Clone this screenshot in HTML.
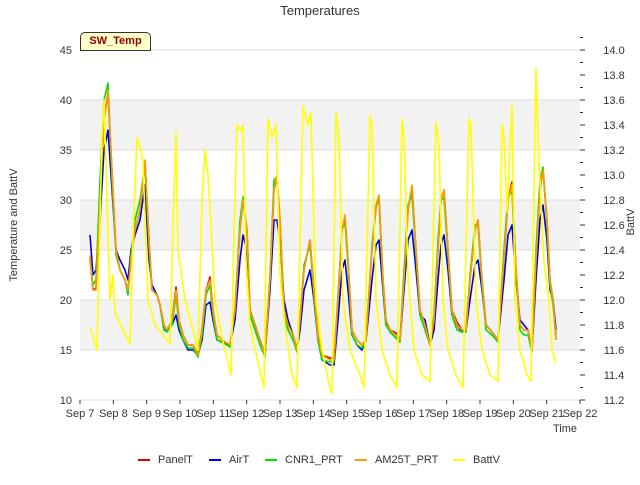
<!DOCTYPE html>
<html><head><meta charset="utf-8"><style>
body{margin:0;background:#fff;font-family:"Liberation Sans",sans-serif}
svg text{font-family:"Liberation Sans",sans-serif}
</style></head><body>
<svg id="c" width="640" height="480" xmlns="http://www.w3.org/2000/svg"></svg>
<script>
const times=[0.30,0.39,0.48,0.60,0.72,0.84,0.96,1.08,1.20,1.35,1.44,1.53,1.65,1.80,1.95,2.07,2.16,2.31,2.40,2.52,2.61,2.76,2.88,2.97,3.09,3.24,3.39,3.54,3.66,3.78,3.90,3.99,4.11,4.26,4.50,4.65,4.80,4.89,5.01,5.10,5.25,5.40,5.55,5.70,5.82,5.91,6.00,6.12,6.24,6.39,6.51,6.60,6.72,6.90,7.02,7.14,7.26,7.50,7.62,7.74,7.86,7.95,8.04,8.16,8.31,8.46,8.58,8.76,8.88,8.97,9.09,9.18,9.30,9.48,9.60,9.72,9.84,9.96,10.08,10.20,10.35,10.50,10.62,10.74,10.83,10.92,11.04,11.16,11.31,11.46,11.58,11.70,11.85,11.94,12.06,12.18,12.36,12.54,12.72,12.84,12.96,13.08,13.20,13.32,13.44,13.56,13.68,13.80,13.89,14.01,14.10,14.19,14.28];
const am25t=[24.5,21,21,30,38,41,33,25,23,22,21,24,27,29,34,26,21,20.5,19.5,17.5,17,18,21,18,16.5,15.5,15.5,14.5,17,21,22,19,16.5,16,15.5,19,27,30,27,19,17.5,16,14.5,22,31,32.5,28,19,17.5,16.5,15,18,23,26,21,16.5,14.5,14,14,20,27,28.5,24,17,16,15.5,16,25,29.5,30.5,22,18,17,16.5,16,22,29,31.5,25,19,17.5,15.5,18,25,30,31,25,19,17.5,17,17,22,27,28,22,17.5,16.8,16,24,30,31.5,23,17.5,17,17,15,24,31,33,28,22,20,16];
const panelT=[24.3,21,21.2,30,38,40.8,32.8,25,23,22,21,24,27,29,33.8,26,21,20.5,19.5,17.5,17,18,21.3,18,16.5,15.5,15.5,14.6,17,21,22.3,19,16.5,16,15.5,19,27,30,27,19,17.5,16,14.6,22,31,32.3,28,19,17.5,16.5,15,18,23,26,21,16.5,14.5,14.2,14.2,20,27,28.3,24,17,16,15.5,16,25,29.3,30.3,22,18,17,16.7,16,22,29,31.3,25,19,17.5,15.5,18,25,30,31,25,19,17.8,17,17,22,27,28,22,17.5,16.8,16,24,30,31.8,23,17.5,17,17,15,24,31,33,28,22,20,16];
const airT=[26.5,22.5,23,28,35,37,31,25,24,23,22,25,26.5,28,31.5,24,21.5,20.5,19.5,17,17,17.5,18.5,17,16,15,15,14.5,16,19.5,19.8,18,16,15.8,15.5,18,24,26.5,25,19,17.5,16,14.5,21,28,28,26,20,18,16.5,15,17,21,23,20,16,14,13.5,13.5,18,23,24,21,16.5,15.5,15,16,22,25.5,26,21,17.5,17,16.5,16,21,26,27,23,18.5,18,15.5,17,22,25.5,26.5,23,18.5,17.5,16.8,17,20,23.5,24,21,17.5,16.8,16,22,26.5,27.5,22,18,17.5,17,15,22,28,29.5,26,21,20,17];
const cnr1=[24,21.5,22,32,40,41.7,32,24.5,23,22,20.5,24.5,28,30,33.5,25.5,21,20.5,19.5,17,16.8,17.5,20.5,17.5,16,15.2,15.2,14.3,16.5,20.5,21.5,18.5,16,15.8,15.3,19,28,30.3,26.5,18.5,17,15.5,14.3,22.5,32,32.3,27,18.5,17,16,14.8,18,23.5,25.5,20.5,16,14,13.8,13.8,20.5,27,27.8,23.5,16.5,15.5,15.2,16,25.5,29.5,30,21.5,17.5,16.8,16.2,15.8,23,29.5,30.5,24.5,18.5,17,15.5,18.5,26,30,30.2,24.5,18.5,17,16.8,16.8,22.5,27.5,27.5,21.5,17,16.5,15.8,25,30.5,30.8,22.5,17,16.5,16.5,14.8,25,32,33.3,27.5,21.5,19.5,16.5];
const battTimes=[0.30,0.51,0.66,0.72,0.81,0.90,0.99,1.05,1.26,1.50,1.59,1.71,1.83,1.89,2.04,2.25,2.55,2.70,2.79,2.88,2.94,3.15,3.45,3.54,3.66,3.75,3.84,3.93,4.05,4.26,4.44,4.53,4.62,4.71,4.83,4.89,4.98,5.10,5.34,5.52,5.64,5.76,5.88,6.00,6.15,6.36,6.51,6.69,6.84,6.93,7.08,7.26,7.50,7.56,7.68,7.77,7.89,8.10,8.40,8.52,8.70,8.76,8.88,9.06,9.30,9.51,9.66,9.72,9.84,10.02,10.26,10.50,10.68,10.77,10.89,11.04,11.28,11.49,11.67,11.73,11.88,12.06,12.30,12.54,12.66,12.72,12.81,12.96,13.05,13.20,13.41,13.53,13.68,13.77,13.92,14.07,14.16,14.28];
const battV=[11.78,11.6,13.3,13.6,12.8,12.0,12.2,11.9,11.78,11.65,12.5,13.3,13.2,13.1,12.0,11.8,11.7,11.65,12.6,13.35,12.4,12.0,11.7,11.6,12.8,13.2,13.0,12.6,12.0,11.7,11.5,11.4,12.5,13.4,13.35,13.4,12.3,11.8,11.5,11.3,13.45,13.3,13.4,12.2,11.8,11.4,11.3,13.55,13.4,13.5,12.0,11.6,11.3,11.25,13.5,13.3,12.0,11.6,11.4,11.3,13.48,13.4,12.0,11.6,11.4,11.3,13.45,13.3,12.2,11.6,11.4,11.35,13.42,13.25,12.0,11.6,11.4,11.3,13.45,13.4,12.0,11.6,11.4,11.35,13.4,13.3,12.7,13.56,12.0,11.6,11.4,11.35,13.85,13.1,12.3,12.0,11.6,11.5];
const xLabels=["Sep 7","Sep 8","Sep 9","Sep 10","Sep 11","Sep 12","Sep 13","Sep 14","Sep 15","Sep 16","Sep 17","Sep 18","Sep 19","Sep 20","Sep 21","Sep 22"];
const yTicks=[10,15,20,25,30,35,40,45];
const y2Ticks=[11.2,11.4,11.6,11.8,12.0,12.2,12.4,12.6,12.8,13.0,13.2,13.4,13.6,13.8,14.0];

const L=80,R=580,T=50,B=400;
const xs=d=>L+d*(R-L)/15;
const ys=v=>B-(v-10)*(B-T)/35;
const ys2=v=>B-(v-11.2)*(B-T)/2.8;
const svg=document.getElementById('c');
const NS='http://www.w3.org/2000/svg';
function mk(tag,at,parent){const e=document.createElementNS(NS,tag);for(const k in at)e.setAttribute(k,at[k]);(parent||svg).appendChild(e);return e;}

mk('rect',{x:L,y:T,width:R-L,height:B-T,fill:'#fff'});
[[35,40],[25,30],[15,20]].forEach(b=>{const r=mk('rect',{x:L,y:ys(b[1]),width:R-L,height:ys(b[0])-ys(b[1]),fill:'#f2f2f2'});

});
yTicks.forEach(v=>{const l=mk('line',{x1:L,x2:R,y1:ys(v),y2:ys(v),stroke:'#dcdcdc','stroke-width':1});


const t=mk('text',{x:L-8,y:ys(v)+4,'text-anchor':'end','font-size':11,fill:'#333'});t.textContent=v;

});
y2Ticks.forEach(v=>{mk('line',{x1:R,x2:R+5,y1:ys2(v),y2:ys2(v),stroke:'#333'});
mk('line',{x1:R,x2:R+3,y1:ys2(v+0.1),y2:ys2(v+0.1),stroke:'#333'});
const t=mk('text',{x:R+34,y:ys2(v)+4,'text-anchor':'middle','font-size':11,fill:'#333'});t.textContent=v.toFixed(1);

});
xLabels.forEach((s,i)=>{mk('line',{x1:xs(i),x2:xs(i),y1:B,y2:B+4,stroke:'#333'});
const t=mk('text',{x:xs(i),y:B+17,'text-anchor':'middle','font-size':11,fill:'#333'});t.textContent=s;

});

function line(tx,vals,sc,color,name){const d=vals.map((v,i)=>(i?'L':'M')+xs(tx[i]).toFixed(1)+','+sc(v).toFixed(1)).join('');
const p=mk('path',{d:d,fill:'none',stroke:color,'stroke-width':1.6,'stroke-linejoin':'round'});

}
line(times,panelT,ys,'#e00000','series-panelt');
line(times,airT,ys,'#0000dd','series-airt');
line(times,cnr1,ys,'#00e000','series-cnr1-prt');
line(times,am25t,ys,'#ff9900','series-am25t-prt');
line(battTimes,battV,ys2,'#ffff00','series-battv');
</script>
<div style="position:absolute;left:0;top:0;width:640px;height:480px;pointer-events:none">
<div style="position:absolute;top:3px;width:640px;text-align:center;font-size:13px;color:#333">Temperatures</div>
<div style="position:absolute;left:-56px;top:219px;width:140px;text-align:center;font-size:11px;color:#333;transform:rotate(-90deg)">Temperature and BattV</div>
<div style="position:absolute;left:601px;top:216px;width:60px;text-align:center;font-size:11px;color:#333;transform:rotate(-90deg)">BattV</div>
<div style="position:absolute;left:553px;top:423px;font-size:11px;color:#333">Time</div>
<div style="position:absolute;left:80px;top:32px;width:69px;height:17px;background:#ffffc8;border:1px solid #333;border-radius:5px 5px 0 0;font-size:11px;font-weight:bold;color:#8b0000;text-align:center;line-height:17px">SW_Temp</div>
<div style="position:absolute;top:454px;left:0;font-size:11px;color:#333">
<span style="position:absolute;left:138px;white-space:nowrap"><i style="display:inline-block;width:12px;height:2px;background:#e00000;vertical-align:middle;margin-right:8px"></i>PanelT</span>
<span style="position:absolute;left:209px;white-space:nowrap"><i style="display:inline-block;width:12px;height:2px;background:#0000dd;vertical-align:middle;margin-right:8px"></i>AirT</span>
<span style="position:absolute;left:265px;white-space:nowrap"><i style="display:inline-block;width:12px;height:2px;background:#00e000;vertical-align:middle;margin-right:8px"></i>CNR1_PRT</span>
<span style="position:absolute;left:355px;white-space:nowrap"><i style="display:inline-block;width:12px;height:2px;background:#ff9900;vertical-align:middle;margin-right:8px"></i>AM25T_PRT</span>
<span style="position:absolute;left:453px;white-space:nowrap"><i style="display:inline-block;width:12px;height:2px;background:#ffff00;vertical-align:middle;margin-right:8px"></i>BattV</span>
</div>
</div>
</body></html>
